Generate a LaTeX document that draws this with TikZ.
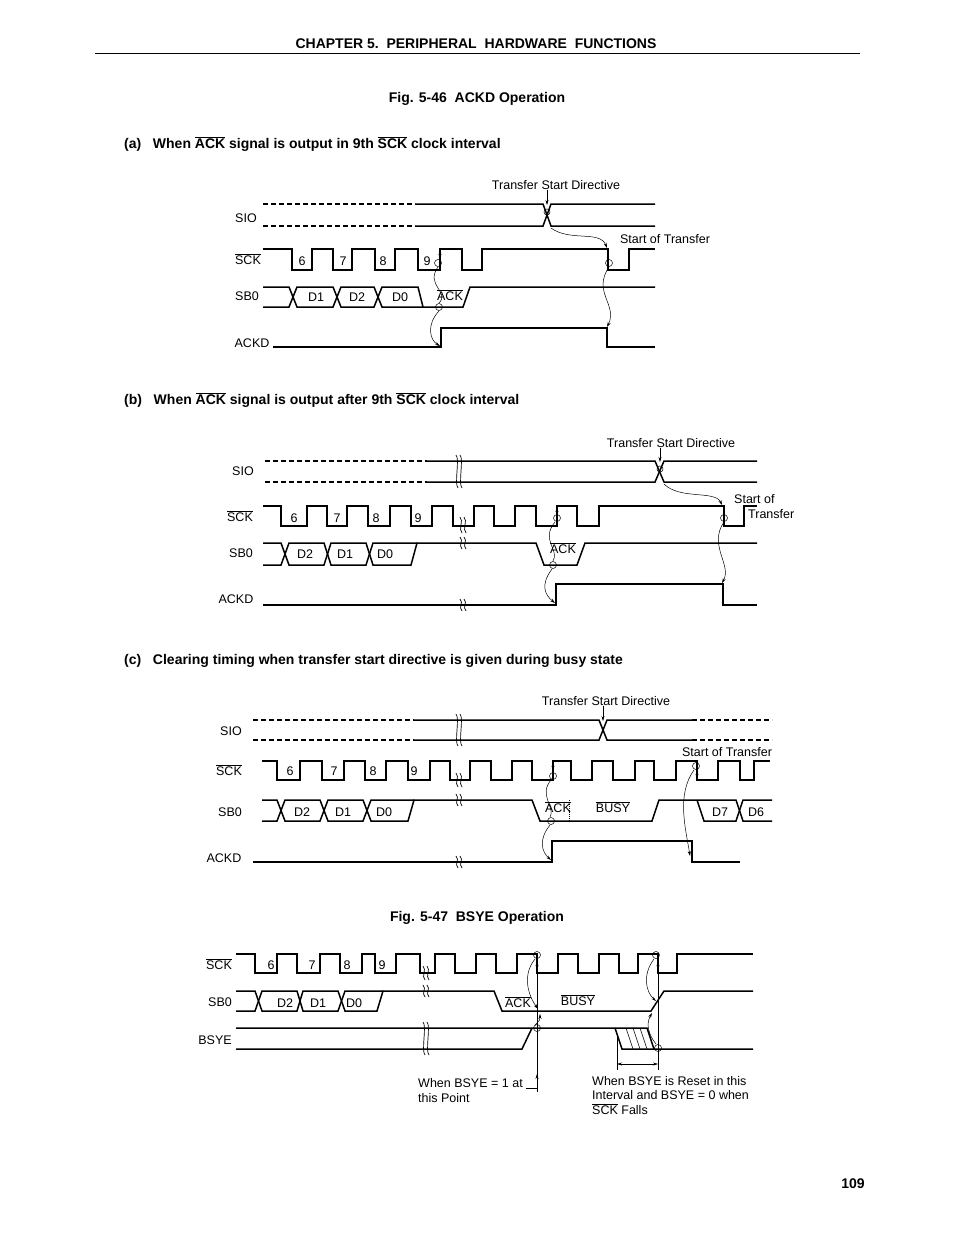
\documentclass[tikz,border=0pt]{standalone}
\usepackage{fontspec}
\setmainfont{Liberation Sans}
\usetikzlibrary{arrows.meta}
\newcommand\brkm[3]{\draw[line width=0.7pt] (#1-3,#2) .. controls (#1+1,#2+4) and (#1-5,#3-4) .. (#1-1,#3);
 \draw[line width=0.7pt] (#1+1,#2) .. controls (#1+5,#2+4) and (#1-1,#3-4) .. (#1+3,#3);}
\newcommand\ovl[1]{$\overline{\hbox{#1}}$}
\begin{document}
\begin{tikzpicture}[x=1pt,y=-1pt,
 sig/.style={line width=1.5pt},
 dsh/.style={line width=1.5pt,dash pattern=on 5pt off 3pt},
 thinc/.style={line width=0.5pt},
 arr/.style={line width=0.5pt,-{Stealth[length=5pt,width=3pt]}},
 lbl/.style={font=\fontsize{12.5}{14}\selectfont,inner sep=0,text height=9pt,text depth=0pt},
 hd/.style={font=\fontsize{14}{16}\selectfont\bfseries,inner sep=0},
 circ/.style={line width=0.5pt}]
\useasboundingbox (0,0) rectangle (954,1235);
\fill[white] (0,0) rectangle (954,1235);
% header
\node[hd] (chap) at (476,44) {CHAPTER 5.\ \ PERIPHERAL\ \ HARDWARE\ \ FUNCTIONS};
\draw[line width=0.8pt] (95,53)--(860,53);
\node[hd] (fig46) at (477,99) {Fig. 5-46\ \ ACKD Operation};
\node[hd,anchor=west] (ha) at (124,144) {(a)\ \ \ When \ovl{ACK} signal is output in 9th \ovl{SCK} clock interval};
\node[hd,anchor=west] (hb) at (124,400) {(b)\ \ \ When \ovl{ACK} signal is output after 9th \ovl{SCK} clock interval};
\node[hd,anchor=west] (hc) at (124,661) {(c)\ \ \ Clearing timing when transfer start directive is given during busy state};
\node[hd] (fig47) at (477,918) {Fig. 5-47\ \ BSYE Operation};
\node[hd] (pg) at (853,1184) {109};

%%%%%%%%%%%% (a)
\node[lbl] (sioa) at (246,218) {SIO};
\node[lbl] (scka) at (248,260) {\ovl{SCK}};
\node[lbl] (sba) at (247,296) {SB0};
\node[lbl] (ackda) at (252,343) {ACKD};
\node[lbl] (tsda) at (556,185) {Transfer Start Directive};
\node[lbl] (sota) at (665,239) {Start of Transfer};
\draw[dsh] (263,204)--(415,204) (263,226)--(415,226);
\draw[sig] (415,204)--(543,204)--(551,226)--(655,226);
\draw[sig] (415,226)--(543,226)--(551,204)--(655,204);
\draw[arr] (tsda.south -| 547,0)--(547,205);
\draw[circ] (547,212) circle (3);
\draw[sig] (263,249)-|(292,270)-|(312,249)-|(333,270)-|(352,249)-|(375,270)-|(395,249)-|(418,270)-|(440,249)-|(462,270)-|(482,249)-|(608,270)-|(629,249)--(655,249);
\foreach \t/\x in {6/302,7/343,8/383,9/427}{\node[lbl] at (\x,261) {\t};}
\draw[sig] (263,287)--(289,287)--(297,307)--(333,307)--(341,287)--(374,287)--(382,307)--(463,307)--(470,287)--(655,287);
\draw[sig] (263,307)--(289,307)--(297,287)--(333,287)--(341,307)--(374,307)--(382,287)--(418,287)--(423,307);
\node[lbl] at (316,297) {D1};\node[lbl] at (357,297) {D2};\node[lbl] at (400,297) {D0};
\node[lbl] at (450,296) {\ovl{ACK}};
\draw[sig] (273,347)-|(441,328)-|(607,347)--(655,347);
\draw[circ] (438,263) circle (3.5) (439,307) circle (3.5) (609,263) circle (3.5);
\draw[arr] (440,262)--(440,250);
\draw[thinc] (438,267) .. controls (425,285) and (450,292) .. (439,303);
\draw[arr] (439,311) .. controls (426,325) and (430,340) .. (440,346);
\draw[arr] (551,228) .. controls (570,242) and (600,230) .. (607,248);
\draw[arr] (609,267) .. controls (592,292) and (618,305) .. (607,327);

%%%%%%%%%%%% (b)
\node[lbl] (siob) at (243,471) {SIO};
\node[lbl] (sckb) at (240,517) {\ovl{SCK}};
\node[lbl] (sbb) at (241,553) {SB0};
\node[lbl] (ackdb) at (236,599) {ACKD};
\node[lbl] (tsdb) at (671,443) {Transfer Start Directive};
\node[lbl,anchor=west] (sotb1) at (734,499) {Start of};
\node[lbl,anchor=west] (sotb2) at (748,514) {Transfer};
\draw[dsh] (265,461)--(427,461) (265,482)--(427,482);
\draw[sig] (427,461)--(655,461)--(664,482)--(757,482);
\draw[sig] (427,482)--(655,482)--(664,461)--(757,461);
\brkm{459}{455}{488}
\draw[arr] (tsdb.south -| 660,0)--(660,462);
\draw[circ] (660,469) circle (3);
\draw[sig] (263,506)-|(281,526)-|(307,506)-|(327,526)-|(347,506)-|(368,526)-|(390,506)-|(411,526)-|(432,506)-|(453,526)-|(474,506)-|(494,526)-|(515,506)-|(536,526)-|(557,506)-|(577,526)-|(599,506)-|(724,526)-|(744,506)--(757,506);
\brkm{463}{517}{533}
\foreach \t/\x in {6/294,7/337,8/376,9/418}{\node[lbl] at (\x,518) {\t};}
\draw[sig] (263,543)--(281,543)--(289,565)--(324,565)--(331,543)--(366,543)--(373,565)--(411,565)--(417,543)--(536,543)--(544,565)--(577,565)--(585,543)--(757,543);
\draw[sig] (263,565)--(281,565)--(289,543)--(324,543)--(331,565)--(366,565)--(373,543)--(417,543);
\brkm{463}{537}{549}
\node[lbl] at (305,554) {D2};\node[lbl] at (345,554) {D1};\node[lbl] at (385,554) {D0};
\node[lbl] at (563,549) {\ovl{ACK}};
\draw[sig] (263,605)-|(556,584)-|(723,605)--(757,605);
\brkm{463}{599}{611}
\draw[circ] (557,518) circle (3.5) (553,565) circle (3.5) (724,518) circle (3.5);
\draw[arr] (557,515)--(557,507);
\draw[thinc] (555,522) .. controls (540,540) and (560,550) .. (553,561);
\draw[arr] (552,569) .. controls (540,585) and (545,595) .. (555,603);
\draw[arr] (664,484) .. controls (680,500) and (715,490) .. (722,505);
\draw[arr] (724,522) .. controls (708,545) and (732,565) .. (722,583);

%%%%%%%%%%%% (c)
\node[lbl] (sioc) at (231,731) {SIO};
\node[lbl] (sckc) at (229,771) {\ovl{SCK}};
\node[lbl] (sbc) at (230,812) {SB0};
\node[lbl] (ackdc) at (224,858) {ACKD};
\node[lbl] (tsdc) at (606,701) {Transfer Start Directive};
\node[lbl] (sotc) at (727,752) {Start of Transfer};
\draw[dsh] (253,720)--(414,720) (253,740)--(414,740) (692,720)--(772,720) (692,740)--(772,740);
\draw[sig] (414,720)--(599,720)--(607,740)--(692,740);
\draw[sig] (414,740)--(599,740)--(607,720)--(692,720);
\brkm{459}{714}{746}
\draw[arr] (tsdc.south -| 603,0)--(603,721);
\draw[sig] (262,761)-|(277,780)-|(300,761)-|(322,780)-|(344,761)-|(365,780)-|(386,761)-|(408,780)-|(430,761)-|(450,780)-|(470,761)-|(491,780)-|(512,761)-|(532,780)-|(553,761)-|(571,780)-|(592,761)-|(613,780)-|(635,761)-|(654,780)-|(676,761)-|(697,780)-|(718,761)-|(740,780)-|(754,761)--(770,761);
\brkm{459}{773}{787}
\foreach \t/\x in {6/290,7/334,8/373,9/414}{\node[lbl] at (\x,771) {\t};}
\draw[sig] (262,800)--(277,800)--(285,821)--(320,821)--(328,800)--(363,800)--(371,821)--(408,821)--(414,800)--(532,800)--(540,821)--(652,821)--(659,800)--(736,800)--(743,821)--(772,821);
\draw[sig] (262,821)--(277,821)--(285,800)--(320,800)--(328,821)--(363,821)--(371,800)--(414,800);
\draw[sig] (697,800)--(704,821)--(736,821)--(743,800)--(772,800);
\brkm{459}{794}{806}
\draw[line width=1pt,densely dotted] (569,800)--(569,821);
\node[lbl] at (302,812) {D2};\node[lbl] at (343,812) {D1};\node[lbl] at (384,812) {D0};
\node[lbl] at (558,808) {\ovl{ACK}};\node[lbl] at (613,808) {\ovl{BUSY}};
\node[lbl] at (720,812) {D7};\node[lbl] at (756,812) {D6};
\draw[sig] (253,862)-|(552,841)-|(692,862)--(740,862);
\brkm{459}{856}{868}
\draw[circ] (553,776) circle (3.5) (551,821) circle (3.5) (696,766) circle (3.5);
\draw[arr] (553,773)--(553,762);
\draw[arr] (697,770)--(697,779);
\draw[thinc] (551,780) .. controls (538,795) and (556,808) .. (550,817);
\draw[arr] (550,825) .. controls (538,840) and (542,852) .. (551,860);
\draw[arr] (694,770) .. controls (676,795) and (686,830) .. (690,856);

%%%%%%%%%%%% Fig 5-47
\node[lbl] (sckd) at (219,965) {\ovl{SCK}};
\node[lbl] (sbd) at (220,1002) {SB0};
\node[lbl] (bsye) at (215,1040) {BSYE};
\draw[sig] (236,954)-|(255,973)-|(277,954)-|(297,973)-|(320,954)-|(340,973)-|(362,954)-|(375,973)-|(396,954)-|(420,973)-|(435,954)-|(455,973)-|(476,954)-|(496,973)-|(517,954)-|(537,973)-|(558,954)-|(578,973)-|(599,954)-|(619,973)-|(638,954)-|(658,973)-|(677,954)--(753,954);
\brkm{426}{966}{980}
\foreach \t/\x in {6/271,7/312,8/347,9/382}{\node[lbl] at (\x,965) {\t};}
\draw[sig] (236,991)--(255,991)--(262,1011)--(297,1011)--(303,991)--(338,991)--(345,1011)--(377,1011)--(383,991)--(494,991)--(502,1011)--(651,1011)--(664,991)--(753,991);
\draw[sig] (236,1011)--(255,1011)--(262,991)--(297,991)--(303,1011)--(338,1011)--(345,991)--(383,991);
\brkm{426}{985}{997}
\node[lbl] at (285,1003) {D2};\node[lbl] at (318,1003) {D1};\node[lbl] at (354,1003) {D0};
\node[lbl] at (518,1003) {\ovl{ACK}};\node[lbl] at (578,1001) {\ovl{BUSY}};
\draw[sig] (236,1028)--(647,1028)--(654,1049)--(753,1049);
\draw[sig] (236,1049)--(522,1049)--(532,1028);
\draw[sig] (615,1028)--(622,1049)--(654,1049);
\foreach \h in {626,633,640}{\draw[thinc] (\h,1028)--(\h+7,1049);}
\brkm{426}{1022}{1055}
\draw[thinc] (537,958)--(537,1088)--(526,1088);
\draw[arr] (537,1092)--(537,1074);
\draw[thinc] (658,958)--(658,1070) (617,1036)--(617,1070);
\draw[thinc,{Stealth[length=5pt,width=3pt]}-{Stealth[length=5pt,width=3pt]}] (617,1064)--(658,1064);
\draw[circ] (537,955) circle (3.5) (656,955) circle (3.5) (537,1028) circle (3.5) (658,1048) circle (3.5);
\draw[arr] (537,960)--(537,970);
\draw[arr] (658,960)--(658,970);
\draw[arr] (535,959) .. controls (522,975) and (528,995) .. (538,1009);
\draw[arr] (535,1025) .. controls (540,1020) .. (540,1014);
\draw[arr] (654,959) .. controls (642,975) and (646,992) .. (656,1001);
\draw[arr] (656,1044) .. controls (645,1030) and (648,1020) .. (652,1013);
\node[lbl,anchor=west] (n1a) at (418,1083) {When BSYE = 1 at};
\node[lbl,anchor=west] (n1b) at (418,1098) {this Point};
\node[lbl,anchor=west] (n2a) at (592,1081) {When BSYE is Reset in this};
\node[lbl,anchor=west] (n2b) at (592,1095) {Interval and BSYE = 0 when};
\node[lbl,anchor=west] (n2c) at (592,1110) {\ovl{SCK} Falls};
\end{tikzpicture}
\end{document}
